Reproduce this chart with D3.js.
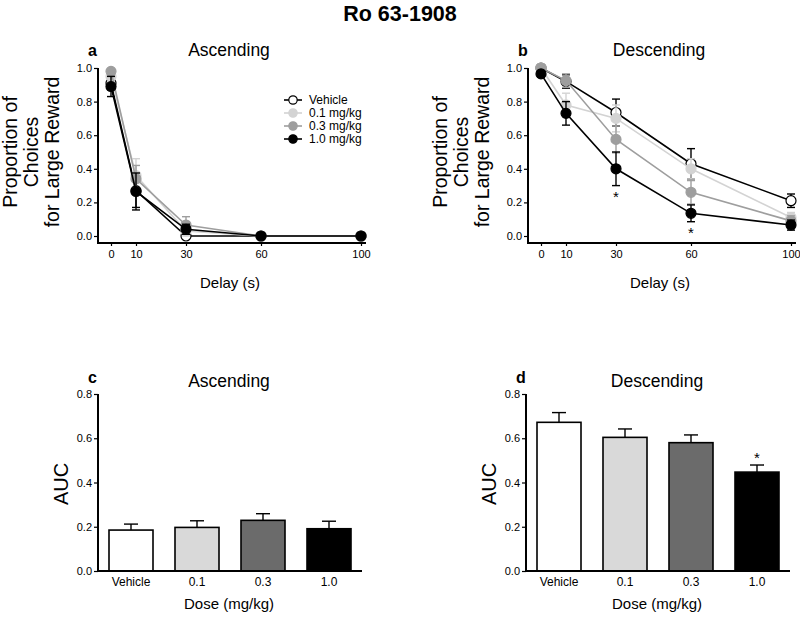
<!DOCTYPE html>
<html><head><meta charset="utf-8">
<script src="https://cdn.jsdelivr.net/npm/d3@7"></script>
<style>body{margin:0;background:#fff}svg{font-family:Arial,"Liberation Sans",Helvetica,sans-serif}</style>
</head><body><svg id="c" width="800" height="618"></svg>
<script>
// ---------- data ----------
const delays = [0, 10, 30, 60, 100];
const seriesNames = ["Vehicle", "0.1 mg/kg", "0.3 mg/kg", "1.0 mg/kg"];
// Ascending (panel a)
const ascVehicle = [0.91, 0.27, 0.00, 0.00, 0.00];
const ascVehicleErr = [0.04, 0.10, 0.01, 0, 0];
const asc01 = [0.95, 0.36, 0.03, 0.00, 0.00];
const asc01Err = [0.03, 0.10, 0.03, 0, 0];
const asc03 = [0.98, 0.34, 0.065, 0.00, 0.00];
const asc03Err = [0.01, 0.08, 0.05, 0, 0];
const asc10 = [0.89, 0.265, 0.04, 0.00, 0.00];
const asc10Err = [0.06, 0.11, 0.03, 0, 0];
// Descending (panel b)
const descVehicle = [1.00, 0.92, 0.735, 0.43, 0.21];
const descVehicleErr = [0.00, 0.04, 0.08, 0.09, 0.04];
const desc01 = [1.00, 0.78, 0.70, 0.40, 0.11];
const desc01Err = [0.00, 0.07, 0.08, 0.06, 0.03];
const desc03 = [1.00, 0.925, 0.575, 0.26, 0.09];
const desc03Err = [0.00, 0.04, 0.08, 0.07, 0.03];
const desc10 = [0.965, 0.73, 0.40, 0.135, 0.065];
const desc10Err = [0.02, 0.07, 0.10, 0.05, 0.03];
const descStars = [30, 60];
// AUC (panels c, d)
const doses = ["Vehicle", "0.1", "0.3", "1.0"];
const aucAsc = [0.185, 0.197, 0.229, 0.191];
const aucAscErr = [0.027, 0.030, 0.030, 0.034];
const aucDesc = [0.672, 0.604, 0.580, 0.447];
const aucDescErr = [0.044, 0.038, 0.035, 0.032];
const aucDescStars = ["1.0"];
const yTicksLine = [0, 0.2, 0.4, 0.6, 0.8, 1.0];
const yTicksBar = [0, 0.2, 0.4, 0.6, 0.8];

// ---------- styles ----------
const lineColors = ["#000", "#d3d3d3", "#9e9e9e", "#000"];
const markFill = ["#fff", "#d3d3d3", "#9e9e9e", "#000"];
const barFill = ["#fff", "#d9d9d9", "#6b6b6b", "#000"];

const svg = d3.select("#c");
svg.append("text").attr("x", 400).attr("y", 21).attr("text-anchor", "middle")
  .attr("font-size", 21.5).attr("font-weight", "bold").text("Ro 63-1908");

function styleAxis(g, fs) {
  g.selectAll("text").attr("font-size", fs || 11).attr("fill", "#000");
  g.selectAll("line").attr("stroke", "#000").attr("stroke-width", 1.2);
}

function linePanel(ox, letter, title, data, errs, stars) {
  const x = d3.scaleLinear().domain([0, 100]).range([ox + 13, ox + 263]);
  const y = d3.scaleLinear().domain([0, 1]).range([236, 68]);
  const axisY = 243, axisX = ox;
  const g = svg.append("g");
  const ya = g.append("g").attr("transform", `translate(${axisX},0)`)
    .call(d3.axisLeft(y).tickValues(yTicksLine).tickFormat(d3.format(".1f")).tickSize(4).tickPadding(2));
  ya.select(".domain").remove(); styleAxis(ya);
  g.append("line").attr("x1", axisX).attr("x2", axisX).attr("y1", y(1)).attr("y2", axisY + 1)
    .attr("stroke", "#000").attr("stroke-width", 2);
  const xa = g.append("g").attr("transform", `translate(0,${axisY})`)
    .call(d3.axisBottom(x).tickValues(delays).tickSize(3).tickPadding(4));
  xa.select(".domain").remove(); styleAxis(xa);
  g.append("line").attr("x1", axisX - 1).attr("x2", x(100) + 5).attr("y1", axisY).attr("y2", axisY)
    .attr("stroke", "#000").attr("stroke-width", 2);
  g.append("text").attr("x", axisX - 10).attr("y", 56).attr("font-size", 16).attr("font-weight", "bold").text(letter);
  g.append("text").attr("x", ox + 131).attr("y", 56).attr("text-anchor", "middle").attr("font-size", 17.5).text(title);
  g.append("text").attr("x", ox + 132).attr("y", 288).attr("text-anchor", "middle").attr("font-size", 15).text("Delay (s)");
  const lab = g.append("text").attr("transform", `translate(${axisX - 60},152) rotate(-90)`)
    .attr("text-anchor", "middle").attr("font-size", 19.5);
  ["Proportion of", "Choices", "for Large Reward"].forEach((t, i) =>
    lab.append("tspan").attr("x", 0).attr("dy", i === 0 ? -21 : 21).text(t));
  const ln = d3.line().x((d, i) => x(delays[i])).y(d => y(d));
  data.forEach((s, k) => {
    const sg = g.append("g");
    sg.append("path").attr("d", ln(s)).attr("fill", "none").attr("stroke", lineColors[k]).attr("stroke-width", 1.6);
    s.forEach((v, i) => {
      const e = errs[k][i];
      if (e > 0) {
        const cx = x(delays[i]);
        sg.append("line").attr("x1", cx).attr("x2", cx).attr("y1", y(v - e)).attr("y2", y(v + e)).attr("stroke", lineColors[k]).attr("stroke-width", 1.4);
        [v - e, v + e].forEach(t => sg.append("line").attr("x1", cx - 4).attr("x2", cx + 4).attr("y1", y(t)).attr("y2", y(t)).attr("stroke", lineColors[k]).attr("stroke-width", 1.4));
      }
    });
    sg.selectAll("circle").data(s).join("circle").attr("cx", (d, i) => x(delays[i])).attr("cy", d => y(d)).attr("r", 5)
      .attr("fill", markFill[k]).attr("stroke", k === 0 ? "#000" : markFill[k]).attr("stroke-width", 1.2);
  });
  (stars || []).forEach(dl => {
    const i = delays.indexOf(dl);
    const low = data[3][i] - errs[3][i];
    g.append("text").attr("x", x(dl)).attr("y", y(low) + 16).attr("text-anchor", "middle").attr("font-size", 15).text("*");
  });
}

linePanel(98, "a", "Ascending", [ascVehicle, asc01, asc03, asc10], [ascVehicleErr, asc01Err, asc03Err, asc10Err]);
linePanel(528, "b", "Descending", [descVehicle, desc01, desc03, desc10], [descVehicleErr, desc01Err, desc03Err, desc10Err], descStars);

const lg = svg.append("g");
seriesNames.forEach((n, k) => {
  const yy = 100 + k * 13;
  lg.append("line").attr("x1", 284).attr("x2", 302).attr("y1", yy).attr("y2", yy).attr("stroke", lineColors[k]).attr("stroke-width", 1.6);
  lg.append("circle").attr("cx", 293).attr("cy", yy).attr("r", 4.2).attr("fill", markFill[k]).attr("stroke", k === 0 ? "#000" : markFill[k]).attr("stroke-width", 1.2);
  lg.append("text").attr("x", 309).attr("y", yy + 4.3).attr("font-size", 12).text(n);
});

function barPanel(ox, letter, title, vals, errs, stars) {
  const x = d3.scaleBand().domain(doses).range([ox, ox + 264]).paddingInner(1 / 3).paddingOuter(1 / 6);
  const y = d3.scaleLinear().domain([0, 0.8]).range([571, 394]);
  const g = svg.append("g");
  const ya = g.append("g").attr("transform", `translate(${ox},0)`)
    .call(d3.axisLeft(y).tickValues(yTicksBar).tickFormat(d3.format(".1f")).tickSize(4).tickPadding(2));
  ya.select(".domain").remove(); styleAxis(ya);
  vals.forEach((v, i) => {
    const bx = x(doses[i]), cx = bx + x.bandwidth() / 2;
    g.append("line").attr("x1", cx).attr("x2", cx).attr("y1", y(v)).attr("y2", y(v + errs[i])).attr("stroke", "#000").attr("stroke-width", 1.4);
    g.append("line").attr("x1", cx - 7).attr("x2", cx + 7).attr("y1", y(v + errs[i])).attr("y2", y(v + errs[i])).attr("stroke", "#000").attr("stroke-width", 1.4);
    g.append("rect").attr("x", bx).attr("y", y(v)).attr("width", x.bandwidth()).attr("height", y(0) - y(v))
      .attr("fill", barFill[i]).attr("stroke", "#000").attr("stroke-width", 1.6);
  });
  (stars || []).forEach(d => {
    const i = doses.indexOf(d);
    g.append("text").attr("x", x(d) + x.bandwidth() / 2).attr("y", y(vals[i] + errs[i]) - 2).attr("text-anchor", "middle").attr("font-size", 15).text("*");
  });
  g.append("line").attr("x1", ox).attr("x2", ox).attr("y1", y(0.8)).attr("y2", y(0) + 1).attr("stroke", "#000").attr("stroke-width", 2);
  g.append("line").attr("x1", ox - 1).attr("x2", ox + 264).attr("y1", y(0)).attr("y2", y(0)).attr("stroke", "#000").attr("stroke-width", 2);
  const xa = g.append("g").attr("transform", `translate(0,${y(0)})`).call(d3.axisBottom(x).tickSize(0).tickPadding(6));
  xa.select(".domain").remove(); styleAxis(xa, 12);
  g.append("text").attr("x", ox - 10).attr("y", 383).attr("font-size", 16).attr("font-weight", "bold").text(letter);
  g.append("text").attr("x", ox + 131).attr("y", 387).attr("text-anchor", "middle").attr("font-size", 17.5).text(title);
  g.append("text").attr("x", ox + 131).attr("y", 609).attr("text-anchor", "middle").attr("font-size", 15).text("Dose (mg/kg)");
  g.append("text").attr("transform", `translate(${ox - 30},484) rotate(-90)`).attr("text-anchor", "middle").attr("font-size", 20).text("AUC");
}
barPanel(98, "c", "Ascending", aucAsc, aucAscErr);
barPanel(526, "d", "Descending", aucDesc, aucDescErr, aucDescStars);
</script></body></html>
